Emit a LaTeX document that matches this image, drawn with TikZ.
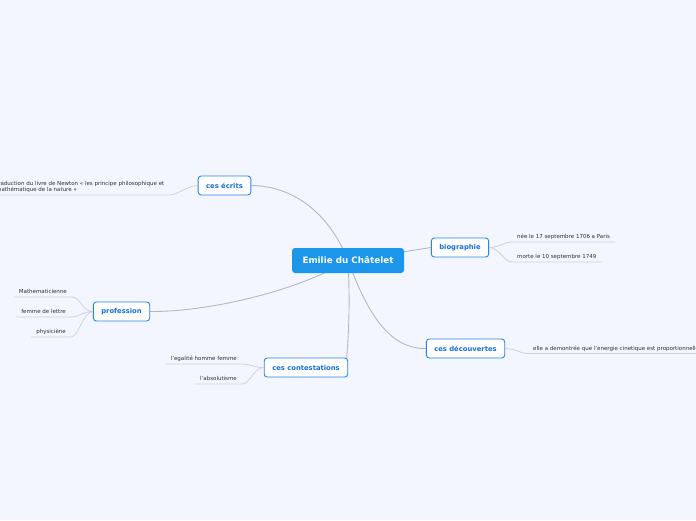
\documentclass[tikz,border=0pt]{standalone}
\usepackage{fontspec}
\setsansfont{DejaVu Sans}
\usetikzlibrary{positioning,backgrounds}

\definecolor{mapbg}{RGB}{243,246,254}
\definecolor{rootblue}{RGB}{27,150,234}
\definecolor{topicblue}{RGB}{36,132,234}
\definecolor{topictext}{RGB}{22,112,218}
\definecolor{branchgrey}{RGB}{180,184,196}
\definecolor{twiggrey}{RGB}{206,210,222}
\definecolor{leaftext}{RGB}{48,48,54}

\begin{document}
\begin{tikzpicture}[
    x=1pt, y=-1pt,
    font=\sffamily,
    root/.style={fill=rootblue, rounded corners=3pt, text=white, font=\sffamily\bfseries\fontsize{8.8}{10}\selectfont, minimum width=112pt, minimum height=25pt},
    topic/.style={draw=topicblue, fill=white, line width=0.9pt, rounded corners=3pt, text=topictext, font=\sffamily\bfseries\fontsize{6.8}{8}\selectfont, minimum height=19pt, inner xsep=8pt},
    leafbase/.style={text=leaftext, font=\sffamily\fontsize{5.5}{6.2}\selectfont, inner xsep=5pt, inner ysep=2pt},
    leaf/.style={leafbase, text height=4.1pt, text depth=1.2pt},
    branch/.style={draw=branchgrey, line width=0.9pt},
    twig/.style={draw=twiggrey, line width=0.8pt}
]
\useasboundingbox (0,0) rectangle (696,520);

% centre and main topics
\node[root] (emilie) at (348,260.5) {Emilie du Châtelet};
\node[topic] (ecrits) at (224.5,185.5) {ces écrits};
\node[topic] (bio) at (460,247.5) {biographie};
\node[topic] (decouv) at (465.5,348.5) {ces découvertes};
\node[topic] (prof) at (121.5,311.5) {profession};
\node[topic] (contest) at (306,367.5) {ces contestations};

% leaves
\node[leafbase, align=left, anchor=south west] (newton) at (-9,195) {traduction du livre de Newton « les principe philosophique et\\mathématique de la nature »};
\node[leaf, anchor=south west] (nee) at (512,242) {née le 17 septembre 1706 a Paris};
\node[leaf, anchor=south west] (morte) at (512,262) {morte le 10 septembre 1749};
\node[leaf, anchor=south west] (energie) at (528,353.5) {elle a demontrée que l'energie cinetique est proportionnelle};
\node[leaf, anchor=south east] (math) at (72,297) {Mathematicienne};
\node[leaf, anchor=south east] (femme) at (71,317) {femme de lettre};
\node[leaf, anchor=south east] (phys) at (71,337) {physiciène};
\node[leaf, anchor=south east] (egalite) at (242,364) {l'egalité homme femme};
\node[leaf, anchor=south east] (absol) at (242,384) {l'absolutisme};

% leaf lines
\draw[twig] (ecrits.west) .. controls +(-10,0) and +(8,0) .. (newton.south east) -- (newton.south west);
\draw[twig] (bio.east) .. controls +(10,0) and +(-8,0) .. (nee.south west) -- (nee.south east);
\draw[twig] (bio.east) .. controls +(10,0) and +(-8,0) .. (morte.south west) -- (morte.south east);
\draw[twig] (decouv.east) .. controls +(10,0) and +(-8,0) .. (energie.south west) -- (energie.south east);
\draw[twig] (prof.west) .. controls +(-10,0) and +(8,0) .. (math.south east) -- (math.south west);
\draw[twig] (prof.west) .. controls +(-10,0) and +(8,0) .. (femme.south east) -- (femme.south west);
\draw[twig] (prof.west) .. controls +(-10,0) and +(8,0) .. (phys.south east) -- (phys.south west);
\draw[twig] (contest.west) .. controls +(-10,0) and +(8,0) .. (egalite.south east) -- (egalite.south west);
\draw[twig] (contest.west) .. controls +(-10,0) and +(8,0) .. (absol.south east) -- (absol.south west);

% branches behind the nodes
\begin{pgfonlayer}{background}
\fill[mapbg] (0,0) rectangle (696,520);
\draw[branch] (emilie.center) .. controls (330,215) and (295,186) .. (ecrits.east);
\draw[branch] (emilie.center) -- (bio.west);
\draw[branch] (emilie.center) .. controls (368,315) and (390,349) .. (decouv.west);
\draw[branch] (emilie.center) .. controls (300,290) and (210,312) .. (prof.east);
\draw[branch] (emilie.center) .. controls (350,300) and (349,330) .. ([xshift=-1.5pt]contest.north east);
\end{pgfonlayer}

\end{tikzpicture}
\end{document}
